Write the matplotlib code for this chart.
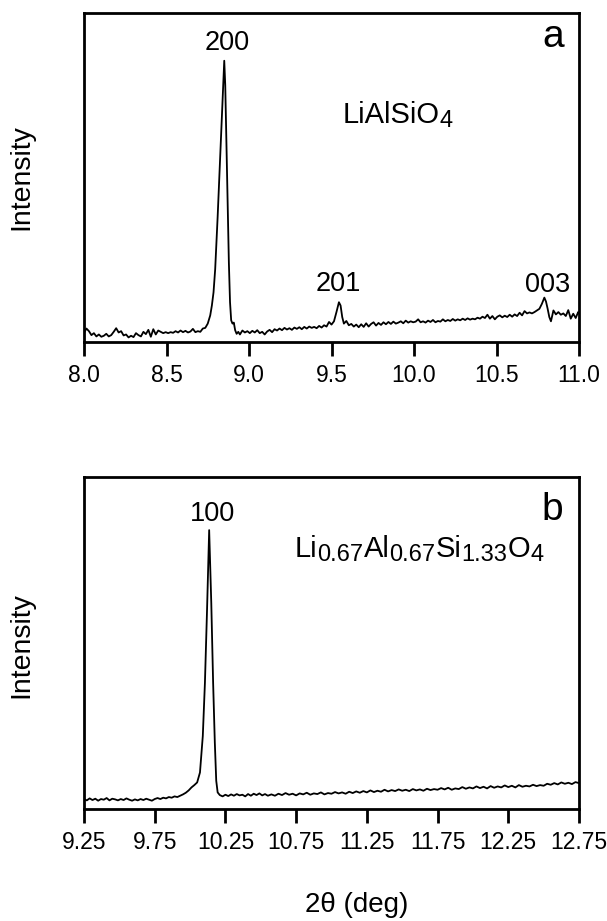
import matplotlib
matplotlib.use("Agg")
import matplotlib.pyplot as plt

plt.rcParams['font.family'] = ['Liberation Sans', 'DejaVu Sans']

# ---- data (2theta in deg, intensity in % of axis height) ----
scan_a = [
    (8.000, 2.7), (8.015, 4.0), (8.030, 3.2), (8.045, 2.0), (8.060, 2.6), (8.075, 1.6),
    (8.090, 2.2), (8.105, 1.5), (8.120, 1.8), (8.135, 2.4), (8.150, 1.6), (8.165, 2.0),
    (8.180, 3.0), (8.195, 4.1), (8.210, 2.8), (8.225, 3.2), (8.240, 1.9), (8.255, 2.2),
    (8.270, 1.3), (8.285, 1.8), (8.300, 1.4), (8.315, 2.6), (8.330, 2.0), (8.345, 1.6),
    (8.360, 3.0), (8.375, 2.3), (8.390, 3.6), (8.405, 1.5), (8.420, 3.8), (8.435, 2.2),
    (8.450, 3.4), (8.465, 3.0), (8.480, 2.6), (8.495, 2.9), (8.510, 2.6), (8.525, 2.9),
    (8.540, 2.7), (8.555, 3.2), (8.570, 2.8), (8.585, 3.4), (8.600, 2.9), (8.615, 3.3),
    (8.630, 2.8), (8.645, 3.1), (8.660, 3.9), (8.675, 2.9), (8.690, 3.2), (8.705, 3.0),
    (8.720, 4.0), (8.735, 4.2), (8.750, 5.5), (8.765, 8.0), (8.775, 11.0), (8.785, 15.0),
    (8.795, 22.0), (8.810, 38.0), (8.825, 56.0), (8.835, 68.0), (8.845, 80.0), (8.850, 85.4),
    (8.856, 78.0), (8.862, 63.0), (8.870, 42.0), (8.878, 24.0), (8.885, 12.0), (8.892, 6.5),
    (8.900, 5.5), (8.908, 5.8), (8.916, 3.5), (8.925, 2.4), (8.935, 3.0), (8.945, 2.2),
    (8.960, 3.4), (8.975, 2.8), (8.990, 3.2), (9.005, 2.6), (9.020, 3.3), (9.035, 2.8),
    (9.050, 3.5), (9.065, 2.6), (9.080, 3.0), (9.095, 2.2), (9.110, 3.1), (9.125, 3.6),
    (9.140, 2.9), (9.155, 3.8), (9.170, 3.4), (9.185, 4.0), (9.200, 3.5), (9.215, 4.2),
    (9.230, 3.7), (9.245, 4.1), (9.260, 3.6), (9.275, 4.3), (9.290, 3.9), (9.305, 4.4),
    (9.320, 3.8), (9.335, 4.5), (9.350, 4.0), (9.365, 4.6), (9.380, 4.2), (9.395, 4.5),
    (9.410, 4.1), (9.425, 4.8), (9.440, 4.3), (9.455, 5.0), (9.470, 4.6), (9.485, 6.0),
    (9.500, 5.2), (9.515, 6.2), (9.530, 9.0), (9.545, 12.0), (9.555, 11.0), (9.565, 7.5),
    (9.575, 5.5), (9.590, 6.3), (9.605, 5.0), (9.620, 5.4), (9.635, 4.6), (9.650, 5.2),
    (9.665, 4.4), (9.680, 5.3), (9.695, 4.5), (9.710, 5.6), (9.725, 4.6), (9.740, 5.4),
    (9.755, 5.9), (9.770, 4.9), (9.785, 5.7), (9.800, 5.1), (9.815, 5.9), (9.830, 5.3),
    (9.845, 6.0), (9.860, 5.4), (9.875, 6.1), (9.890, 5.5), (9.905, 5.8), (9.920, 6.2),
    (9.935, 5.6), (9.950, 6.4), (9.965, 5.8), (9.980, 6.2), (9.995, 5.9), (10.010, 6.1),
    (10.025, 6.8), (10.040, 5.9), (10.055, 6.2), (10.070, 5.8), (10.085, 6.4), (10.100, 6.0),
    (10.115, 6.6), (10.130, 5.9), (10.145, 6.3), (10.160, 6.1), (10.175, 6.8), (10.190, 6.2),
    (10.205, 6.6), (10.220, 6.3), (10.235, 6.9), (10.250, 6.4), (10.265, 6.8), (10.280, 6.5),
    (10.295, 7.0), (10.310, 6.6), (10.325, 7.1), (10.340, 6.7), (10.355, 7.0), (10.370, 6.8),
    (10.385, 7.3), (10.400, 7.0), (10.415, 7.6), (10.430, 7.2), (10.445, 8.2), (10.460, 7.0),
    (10.475, 7.8), (10.490, 6.8), (10.505, 7.6), (10.520, 8.0), (10.535, 7.4), (10.550, 7.9),
    (10.565, 7.5), (10.580, 8.2), (10.595, 7.6), (10.610, 8.3), (10.625, 7.8), (10.640, 8.8),
    (10.655, 8.0), (10.670, 9.3), (10.685, 8.6), (10.700, 8.9), (10.715, 8.6), (10.730, 9.0),
    (10.745, 9.5), (10.760, 10.0), (10.775, 11.5), (10.790, 13.4), (10.800, 12.2), (10.810, 10.0),
    (10.820, 7.5), (10.830, 6.2), (10.845, 9.5), (10.860, 8.3), (10.875, 9.0), (10.890, 8.2),
    (10.905, 8.6), (10.920, 7.8), (10.935, 9.6), (10.950, 7.0), (10.965, 8.5), (10.980, 7.2),
    (10.995, 9.0), (11.000, 8.6),
]

scan_b = [
    (9.25, 3.0), (9.27, 2.6), (9.29, 3.2), (9.31, 2.7), (9.33, 3.1), (9.35, 2.5),
    (9.37, 3.0), (9.39, 2.8), (9.41, 3.3), (9.43, 2.6), (9.45, 3.1), (9.47, 2.9),
    (9.49, 2.6), (9.51, 3.0), (9.53, 2.7), (9.55, 3.2), (9.57, 2.8), (9.59, 2.5),
    (9.61, 2.9), (9.63, 2.6), (9.65, 3.0), (9.67, 2.7), (9.69, 3.1), (9.71, 2.8),
    (9.73, 2.5), (9.75, 3.0), (9.77, 3.3), (9.79, 3.0), (9.81, 3.4), (9.83, 3.2),
    (9.85, 3.6), (9.87, 3.4), (9.89, 3.8), (9.91, 3.6), (9.93, 4.0), (9.95, 4.4),
    (9.97, 4.9), (9.99, 5.6), (10.01, 6.5), (10.03, 7.2), (10.05, 8.0), (10.07, 11.0),
    (10.09, 22.0), (10.105, 38.0), (10.12, 60.0), (10.135, 84.0), (10.15, 62.0), (10.163, 38.0),
    (10.175, 20.0), (10.185, 8.5), (10.195, 5.0), (10.21, 4.2), (10.23, 3.8), (10.25, 4.3),
    (10.27, 3.9), (10.29, 4.4), (10.31, 4.0), (10.33, 4.5), (10.35, 4.1), (10.37, 4.3),
    (10.39, 3.8), (10.41, 4.5), (10.43, 4.0), (10.45, 4.6), (10.47, 4.2), (10.49, 4.7),
    (10.51, 4.1), (10.53, 4.5), (10.55, 4.0), (10.575, 4.4), (10.600, 4.0), (10.625, 4.6),
    (10.650, 4.2), (10.675, 4.8), (10.700, 4.3), (10.725, 4.6), (10.750, 4.1), (10.775, 4.7),
    (10.800, 4.4), (10.825, 4.9), (10.850, 4.3), (10.875, 4.7), (10.900, 4.5), (10.925, 5.0),
    (10.950, 4.4), (10.975, 4.8), (11.000, 4.6), (11.025, 5.1), (11.050, 4.7), (11.075, 5.0),
    (11.100, 4.6), (11.125, 5.2), (11.150, 4.8), (11.175, 5.3), (11.200, 4.9), (11.225, 5.4),
    (11.250, 5.0), (11.275, 5.6), (11.300, 5.1), (11.325, 5.5), (11.350, 5.2), (11.375, 5.8),
    (11.400, 5.3), (11.425, 5.7), (11.450, 5.4), (11.475, 5.9), (11.500, 5.5), (11.525, 5.8),
    (11.550, 5.4), (11.575, 6.0), (11.600, 5.6), (11.625, 5.9), (11.650, 5.5), (11.675, 6.1),
    (11.700, 5.7), (11.725, 6.0), (11.750, 5.8), (11.775, 6.3), (11.800, 5.9), (11.825, 6.4),
    (11.850, 5.8), (11.875, 6.2), (11.900, 6.0), (11.925, 6.6), (11.950, 6.1), (11.975, 6.5),
    (12.000, 6.2), (12.025, 6.8), (12.050, 6.3), (12.075, 6.7), (12.100, 6.2), (12.125, 6.9),
    (12.150, 6.4), (12.175, 6.8), (12.200, 6.5), (12.225, 7.1), (12.250, 6.6), (12.275, 7.0),
    (12.300, 6.5), (12.325, 7.2), (12.350, 6.7), (12.375, 7.0), (12.400, 6.8), (12.425, 7.3),
    (12.450, 6.9), (12.475, 7.2), (12.500, 7.0), (12.525, 7.6), (12.550, 7.3), (12.575, 7.8),
    (12.600, 7.4), (12.625, 8.0), (12.650, 7.6), (12.675, 7.9), (12.700, 7.5), (12.725, 8.1),
    (12.750, 7.8),
]

ticks_a = [8.0, 8.5, 9.0, 9.5, 10.0, 10.5, 11.0]
tick_labels_a = ['8.0', '8.5', '9.0', '9.5', '10.0', '10.5', '11.0']
ticks_b = [9.25, 9.75, 10.25, 10.75, 11.25, 11.75, 12.25, 12.75]
tick_labels_b = ['9.25', '9.75', '10.25', '10.75', '11.25', '11.75', '12.25', '12.75']

peaks_a = ['200', '201', '003']
peak_pos_a = [8.87, 9.54, 10.81]
peak_lab_y_a = [90.9, 17.4, 17.1]
peaks_b = ['100']
peak_pos_b = [10.16]
peak_lab_y_b = [89.0]

# formula pieces: (text, is_subscript)
compound_a = [('LiAlSiO', False), ('4', True)]
compound_b = [('Li', False), ('0.67', True), ('Al', False), ('0.67', True),
              ('Si', False), ('1.33', True), ('O', False), ('4', True)]

# ---- figure ----
W, H = 607, 921
fig = plt.figure(figsize=(W / 100, H / 100), dpi=100)

ax_a = fig.add_axes([84 / W, 1 - 341.7 / H, 495 / W, 329 / H])
ax_b = fig.add_axes([84 / W, 1 - 809 / H, 495 / W, 332 / H])


def style(ax, xlim, ticks, labels):
    ax.set_xlim(*xlim)
    ax.set_ylim(0, 100)
    ax.set_yticks([])
    ax.set_xticks(ticks)
    ax.set_xticklabels(labels)
    ax.tick_params(axis='x', direction='out', length=10, width=2, labelsize=16.5, pad=6)
    for s in ax.spines.values():
        s.set_linewidth(2)


xa, ya = zip(*scan_a)
xb, yb = zip(*scan_b)

ax_a.plot(xa, ya, color='black', lw=1.3)
ax_b.plot(xb, yb, color='black', lw=1.3)

style(ax_a, (8.0, 11.0), ticks_a, tick_labels_a)
style(ax_b, (9.25, 12.75), ticks_b, tick_labels_b)

for lab, xp, yp in zip(peaks_a, peak_pos_a, peak_lab_y_a):
    ax_a.text(xp, yp, lab, ha='center', va='center', fontsize=19.5)
for lab, xp, yp in zip(peaks_b, peak_pos_b, peak_lab_y_b):
    ax_b.text(xp, yp, lab, ha='center', va='center', fontsize=19.5)

renderer = fig.canvas.get_renderer()


def formula(pieces, x_px, base_px, main_size=21, sub_size=17, sub_drop=4):
    x = x_px
    for txt, sub in pieces:
        y = base_px + (sub_drop if sub else 0)
        t = fig.text(x / W, 1 - y / H, txt, ha='left', va='baseline',
                     fontsize=sub_size if sub else main_size)
        x += t.get_window_extent(renderer).width


formula(compound_a, 343, 123)
formula(compound_b, 295, 557)

ax_a.text(0.947, 0.925, 'a', transform=ax_a.transAxes, ha='center', va='center', fontsize=28)
ax_b.text(0.947, 0.90, 'b', transform=ax_b.transAxes, ha='center', va='center', fontsize=28)

fig.text(21 / W, 1 - 177 / H, 'Intensity', rotation=90, ha='center', va='center', fontsize=20.5)
fig.text(21 / W, 1 - 645 / H, 'Intensity', rotation=90, ha='center', va='center', fontsize=20.5)
fig.text(357 / W, 1 - 905 / H, '2θ (deg)', ha='center', va='center', fontsize=20)

fig.savefig('out.png', dpi=100)
